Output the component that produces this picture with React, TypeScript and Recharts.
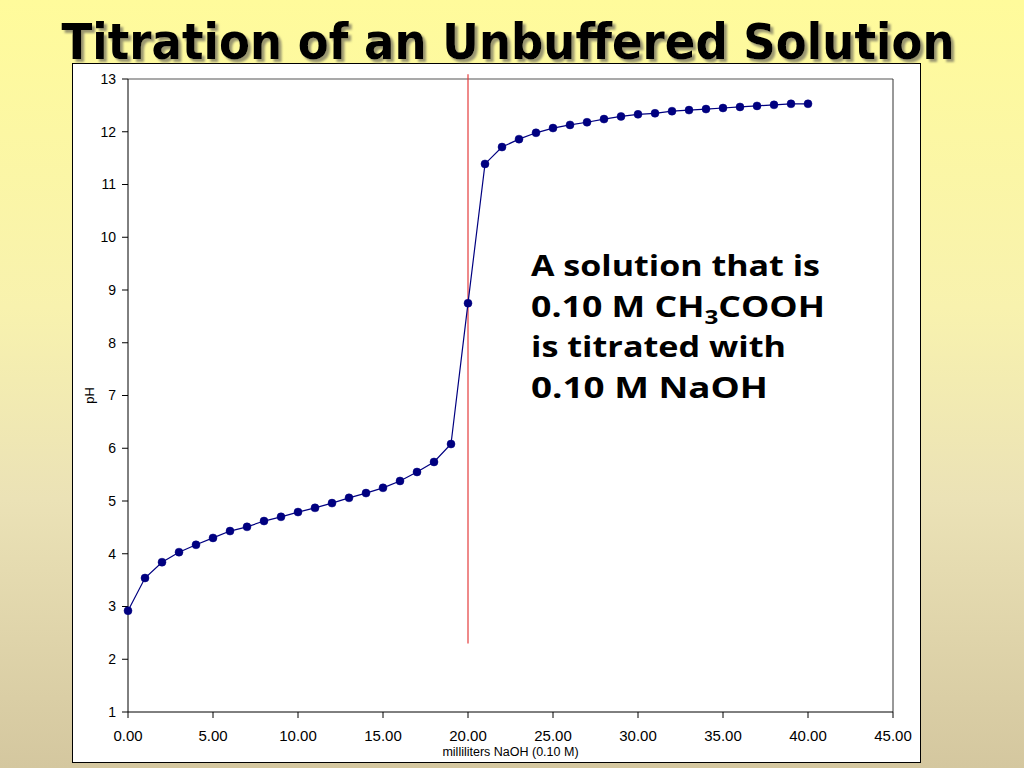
import React from 'react';
import { LineChart, Line, XAxis, YAxis, ReferenceLine } from 'recharts';

// mL of 0.10 M NaOH added
const volumes = [
  0, 1, 2, 3, 4, 5, 6, 7, 8, 9, 10, 11, 12, 13, 14, 15, 16, 17, 18, 19, 20,
  21, 22, 23, 24, 25, 26, 27, 28, 29, 30, 31, 32, 33, 34, 35, 36, 37, 38, 39, 40,
];
// measured pH
const phValues = [
  2.92, 3.54, 3.84, 4.03, 4.17, 4.3, 4.43, 4.51, 4.62, 4.7, 4.79, 4.87, 4.96, 5.06, 5.15, 5.25, 5.38, 5.55, 5.74, 6.08, 8.75,
  11.39, 11.71, 11.86, 11.98, 12.07, 12.13, 12.18, 12.24, 12.29, 12.33, 12.35, 12.39, 12.41, 12.43, 12.45, 12.47, 12.49, 12.51, 12.53, 12.53,
];
const xTicks = [0, 5, 10, 15, 20, 25, 30, 35, 40, 45];
const yTicks = [1, 2, 3, 4, 5, 6, 7, 8, 9, 10, 11, 12, 13];
const equivalence = [
  { x: 20, y: 13.09 },
  { x: 20, y: 2.3 },
];
const titleText = 'Titration of an Unbuffered Solution';
const noteLines = ['A solution that is', '0.10 M CH|3|COOH', 'is titrated with', '0.10 M NaOH'];

const data = volumes.map((v, i) => ({ ml: v, ph: phValues[i] }));

const axisFont = '"Liberation Sans", Arial, sans-serif';
const titleFont = '"DejaVu Sans Condensed", "DejaVu Sans", sans-serif';
const noteFont = '"Open Sans", "DejaVu Sans", sans-serif';

const Title = () => (
  <svg width={1024} height={76} style={{ position: 'absolute', left: 0, top: 0 }}>
    <defs>
      <filter id="titleShadow" x="-5%" y="-20%" width="110%" height="150%">
        <feDropShadow dx={3} dy={3} stdDeviation={0.8} floodColor="#8f8b6c" floodOpacity={0.9} />
      </filter>
    </defs>
    <text x={508} y={59} textAnchor="middle" fontFamily={titleFont} fontWeight="bold" fontSize={50}
      fill="#000" filter="url(#titleShadow)" textLength={893} lengthAdjust="spacingAndGlyphs">{titleText}</text>
  </svg>
);

const noteWidths = [289, 294, 255, 237];

const Note = () => (
  <svg width={400} height={200} style={{ position: 'absolute', left: 520, top: 240 }}>
    {noteLines.map((line, i) => {
      const parts = line.split('|');
      return (
        <text key={i} x={11} y={36 + i * 40.5} fontFamily={noteFont} fontWeight="bold" fontSize={28}
          fill="#000" textLength={noteWidths[i]} lengthAdjust="spacingAndGlyphs">
          {parts.length === 1 ? line : (
            <>
              {parts[0]}
              <tspan fontSize={19} dy={7}>{parts[1]}</tspan>
              <tspan dy={-7}>{parts[2]}</tspan>
            </>
          )}
        </text>
      );
    })}
  </svg>
);

const App = () => (
  <div
    style={{
      position: 'fixed',
      left: 0,
      top: 0,
      width: 1024,
      height: 768,
      overflow: 'hidden',
      background: 'linear-gradient(to bottom, #fffb9b 0%, #f8f2ae 40%, #ebe2b6 65%, #d4c79f 100%)',
    }}
  >
    <div
      style={{
        position: 'absolute',
        left: 73,
        top: 64,
        width: 847,
        height: 698,
        background: '#fff',
        outline: '1px solid #000',
      }}
    >
      <LineChart width={847} height={698} data={data} margin={{ top: 15, right: 27, bottom: 5, left: 15 }}>
        <XAxis
          dataKey="ml"
          type="number"
          domain={[0, 45]}
          ticks={xTicks}
          tickFormatter={(v: number) => v.toFixed(2)}
          height={45}
          tickSize={6}
          tickMargin={12}
          stroke="#000"
          tick={{ fill: '#000', fontSize: 15, fontFamily: axisFont }}
          label={{
            position: 'insideBottom',
            content: ({ viewBox }: any) => (
              <text x={viewBox.x + viewBox.width / 2} y={viewBox.y + 44} textAnchor="middle"
                fontFamily={axisFont} fontSize={12.5} fill="#000">milliliters NaOH (0.10 M)</text>
            ),
          }}
        />
        <YAxis
          type="number"
          domain={[1, 13]}
          ticks={yTicks}
          width={40}
          tickSize={6}
          tickMargin={6}
          stroke="#000"
          tick={{ fill: '#000', fontSize: 14, fontFamily: axisFont }}
          label={{
            position: 'insideLeft',
            content: ({ viewBox }: any) => {
              const x = viewBox.x + 1;
              const y = viewBox.y + viewBox.height / 2;
              return (
                <text x={x} y={y} textAnchor="middle" dominantBaseline="central" transform={`rotate(-90 ${x} ${y})`}
                  fontFamily={axisFont} fontSize={13} fill="#000">pH</text>
              );
            },
          }}
        />
        <ReferenceLine y={13} stroke="#555" strokeWidth={1.2} />
        <ReferenceLine x={45} stroke="#333" strokeWidth={1} />
        <ReferenceLine segment={equivalence} stroke="#e53c3c" strokeWidth={1.2} ifOverflow="visible" />
        <Line
          dataKey="ph"
          type="linear"
          stroke="#000080"
          strokeWidth={1.2}
          dot={{ r: 4, fill: '#000080', stroke: '#000080', strokeWidth: 0.5 }}
          isAnimationActive={false}
        />
      </LineChart>
    </div>
    <Title />
    <Note />
  </div>
);

export default App;
